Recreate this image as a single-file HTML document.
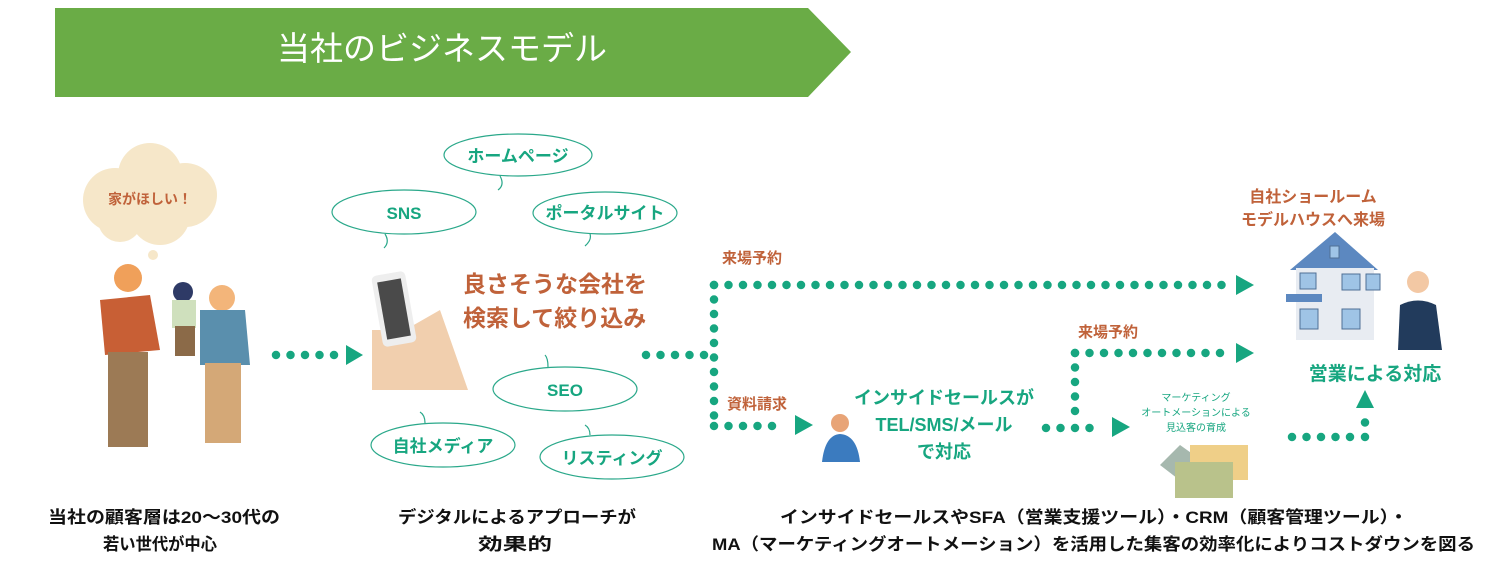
<!DOCTYPE html>
<html><head><meta charset="utf-8"><style>
html,body{margin:0;padding:0;background:#fff;}
svg{display:block;font-family:"Liberation Sans","Noto Sans CJK JP",sans-serif;}
</style></head><body>
<svg width="1500" height="569" viewBox="0 0 1500 569" xmlns="http://www.w3.org/2000/svg">
<!-- banner -->
<polygon points="55,8 808,8 851,52 808,97 55,97" fill="#6aac46"/>
<text x="442" y="60" fill="#fff" font-size="33" text-anchor="middle">当社のビジネスモデル</text>

<g stroke="#17a680" stroke-width="8.5" stroke-linecap="round" stroke-dasharray="0 14.5" fill="none">
<line x1="276" y1="355" x2="335" y2="355"/>
<line x1="646" y1="355" x2="705" y2="355"/>
<line x1="714" y1="285" x2="714" y2="426"/>
<line x1="714" y1="285" x2="1228" y2="285"/>
<line x1="714" y1="426" x2="785" y2="426"/>
<line x1="1046" y1="428" x2="1104" y2="428"/>
<line x1="1075" y1="353" x2="1075" y2="425"/>
<line x1="1075" y1="353" x2="1228" y2="353"/>
<line x1="1292" y1="437" x2="1363" y2="437"/>
<line x1="1365" y1="437" x2="1365" y2="418"/>
</g>
<g fill="#17a680">
<polygon points="346,345 363,355 346,365"/>
<polygon points="1236,275 1254,285 1236,295"/>
<polygon points="795,415 813,425 795,435"/>
<polygon points="1112,417 1130,427 1112,437"/>
<polygon points="1236,343 1254,353 1236,363"/>
<polygon points="1356,408 1365,390 1374,408"/>
</g>

<!-- labels -->
<g font-weight="bold" fill="#c0623a" font-size="15">
<text x="722" y="263">来場予約</text>
<text x="1078" y="337">来場予約</text>
<text x="727" y="409">資料請求</text>
</g>
<g font-weight="bold" fill="#17a680" font-size="18" text-anchor="middle">
<text x="944" y="404">インサイドセールスが</text>
<text x="944" y="431">TEL/SMS/メール</text>
<text x="944" y="458">で対応</text>
<text x="1375" y="380" font-size="19">営業による対応</text>
</g>
<g fill="#17a680" font-size="10" text-anchor="middle">
<text x="1196" y="401">マーケティング</text>
<text x="1196" y="416">オートメーションによる</text>
<text x="1196" y="431">見込客の育成</text>
</g>
<g font-weight="bold" fill="#c0623a" text-anchor="middle" font-size="16">
<text x="1313" y="202">自社ショールーム</text>
<text x="1313" y="225">モデルハウスへ来場</text>
</g>
<g font-weight="bold" fill="#c0623a" font-size="23">
<text x="463" y="292">良さそうな会社を</text>
<text x="463" y="326">検索して絞り込み</text>
</g>

<!-- bubbles -->
<g fill="none" stroke="#2aa88a" stroke-width="1.2">
<ellipse cx="518" cy="155" rx="74" ry="21"/>
<ellipse cx="404" cy="212" rx="72" ry="22"/>
<ellipse cx="605" cy="213" rx="72" ry="21"/>
<ellipse cx="565" cy="389" rx="72" ry="22"/>
<ellipse cx="443" cy="445" rx="72" ry="22"/>
<ellipse cx="612" cy="457" rx="72" ry="22"/>
<path d="M500,176 Q505,185 498,190 M385,234 Q390,242 384,248 M590,234 Q592,240 585,246 M548,367 Q548,358 545,355 M425,423 Q425,415 420,412 M590,435 Q590,428 585,425"/>
</g>
<g fill="#17a680" font-size="17" font-weight="bold" text-anchor="middle">
<text x="518" y="162">ホームページ</text>
<text x="404" y="219">SNS</text>
<text x="605" y="219">ポータルサイト</text>
<text x="565" y="396">SEO</text>
<text x="443" y="452">自社メディア</text>
<text x="612" y="464">リスティング</text>
</g>

<!-- cloud -->
<g fill="#f6e7c9">
<circle cx="115" cy="200" r="32"/><circle cx="150" cy="175" r="32"/><circle cx="185" cy="195" r="32"/>
<circle cx="160" cy="215" r="30"/><circle cx="120" cy="220" r="22"/>
<circle cx="153" cy="255" r="5"/>
</g>
<text x="150" y="204" fill="#c0623a" font-size="14" font-weight="bold" text-anchor="middle">家がほしい！</text>

<!-- family -->
<circle cx="128" cy="278" r="14" fill="#f0a05a"/>
<path d="M100,300 L150,295 L160,350 L105,355 Z" fill="#c85f35"/>
<rect x="108" y="352" width="40" height="95" fill="#9c7a55"/>
<circle cx="222" cy="298" r="13" fill="#f3b57a"/>
<path d="M200,310 L245,310 L250,365 L200,365 Z" fill="#5a8fad"/>
<rect x="205" y="363" width="36" height="80" fill="#d4a877"/>
<circle cx="183" cy="292" r="10" fill="#2e3a66"/>
<rect x="172" y="300" width="24" height="28" fill="#cfe0bd"/>
<rect x="175" y="326" width="20" height="30" fill="#8b6a48"/>

<!-- phone -->
<path d="M372,390 L372,330 L405,330 L440,310 L468,390 Z" fill="#f1cfae"/>
<rect x="377" y="273" width="34" height="72" rx="5" fill="#eee" transform="rotate(-10 394 309)"/>
<rect x="382" y="280" width="24" height="58" fill="#4a4a4a" transform="rotate(-10 394 309)"/>

<!-- person headset -->
<circle cx="840" cy="423" r="9" fill="#e8a477"/>
<path d="M822,462 Q825,435 840,434 Q857,435 860,462 Z" fill="#3b7bbf"/>

<!-- envelopes -->
<polygon points="1160,465 1180,445 1215,470 1195,492" fill="#a6b8ae"/>
<rect x="1190" y="445" width="58" height="35" fill="#efcf88"/>
<rect x="1175" y="462" width="58" height="36" fill="#b9c28b"/>

<!-- house -->
<polygon points="1290,270 1335,232 1378,270" fill="#5c88c0"/>
<rect x="1296" y="268" width="78" height="72" fill="#e8ecf2"/>
<rect x="1286" y="294" width="36" height="8" fill="#5c88c0"/>
<g fill="#9fc4e6" stroke="#4f6f95" stroke-width="1">
<rect x="1300" y="273" width="16" height="16"/><rect x="1342" y="274" width="18" height="16"/><rect x="1366" y="274" width="14" height="16"/>
<rect x="1300" y="309" width="18" height="20"/><rect x="1342" y="309" width="18" height="20"/>
<rect x="1330" y="246" width="9" height="12"/>
</g>
<circle cx="1418" cy="282" r="11" fill="#f3c8a4"/>
<path d="M1398,350 L1400,305 Q1418,296 1436,305 L1442,350 Z" fill="#223b5c"/>

<!-- bottom text -->
<g font-weight="bold" fill="#111" font-size="17">
<text x="48" y="523" textLength="232" lengthAdjust="spacingAndGlyphs">当社の顧客層は20〜30代の</text>
<text x="103" y="550" textLength="114" lengthAdjust="spacingAndGlyphs">若い世代が中心</text>
<text x="398" y="523" textLength="238" lengthAdjust="spacingAndGlyphs">デジタルによるアプローチが</text>
<text x="478" y="550" textLength="74" lengthAdjust="spacingAndGlyphs">効果的</text>
<text x="780" y="523" textLength="628" lengthAdjust="spacingAndGlyphs">インサイドセールスやSFA（営業支援ツール）・CRM（顧客管理ツール）・</text>
<text x="712" y="550" textLength="763" lengthAdjust="spacingAndGlyphs">MA（マーケティングオートメーション）を活用した集客の効率化によりコストダウンを図る</text>
</g>
</svg>
</body></html>
